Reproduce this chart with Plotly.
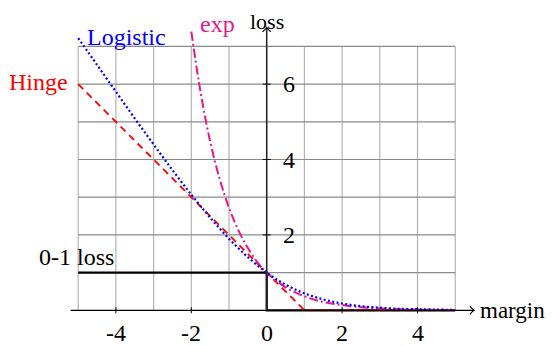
import plotly.graph_objects as go

# ---- data ----
hinge_x = [-5, 1, 5]
hinge_y = [6, 0, 0]

logistic_x = [-5, -4.5, -4, -3.5, -3, -2.5, -2, -1.5, -1, -0.5, 0, 0.5, 1, 1.5, 2, 2.5, 3, 3.5, 4, 4.5, 5]
logistic_y = [7.22, 6.51, 5.80, 5.09, 4.40, 3.72, 3.07, 2.46, 1.90, 1.41, 1.00, 0.68, 0.45, 0.29, 0.18, 0.11, 0.07, 0.04, 0.03, 0.02, 0.01]

exp_x = [-2, -1.75, -1.5, -1.25, -1, -0.75, -0.5, -0.25, 0, 0.5, 1, 1.5, 2, 2.5, 3, 3.5, 4, 4.5, 5]
exp_y = [7.39, 5.76, 4.48, 3.49, 2.72, 2.12, 1.65, 1.28, 1.00, 0.61, 0.37, 0.22, 0.14, 0.08, 0.05, 0.03, 0.02, 0.01, 0.01]

zero_one_x = [-5, 0, 0, 5]
zero_one_y = [1, 1, 0, 0]

grid_x = [-5, -4, -3, -2, -1, 0, 1, 2, 3, 4, 5]
grid_y = [1, 2, 3, 4, 5, 6, 7]
xtick_vals = [-4, -2, 0, 2, 4]
xtick_labels = ["-4", "-2", "0", "2", "4"]
ytick_vals = [2, 4, 6]
ytick_labels = ["2", "4", "6"]

FONT = "'Liberation Serif', 'Times New Roman', serif"
FS = 24
MAGENTA = "#e8168c"

fig = go.Figure()

shapes = []
# grid
for gx in grid_x:
    shapes.append(dict(type="line", xref="x", yref="y", x0=gx, x1=gx, y0=0, y1=7,
                       line=dict(color="#b3b3b3", width=1.2), layer="below"))
for gy in grid_y:
    shapes.append(dict(type="line", xref="x", yref="y", x0=-5, x1=5, y0=gy, y1=gy,
                       line=dict(color="#8a8a8a", width=1.2), layer="below"))
# axes
shapes.append(dict(type="line", xref="x", yref="y", x0=-5.2, x1=5.5, y0=0, y1=0,
                   line=dict(color="black", width=1.2)))
shapes.append(dict(type="line", xref="x", yref="y", x0=0, x1=0, y0=0, y1=7.5,
                   line=dict(color="#222", width=1.5)))
# arrow heads (open V)
shapes.append(dict(type="path", xref="x", yref="y",
                   path="M 5.39,0.11 Q 5.45,0.03 5.5,0 Q 5.45,-0.03 5.39,-0.11",
                   line=dict(color="black", width=1.1)))
shapes.append(dict(type="path", xref="x", yref="y",
                   path="M -0.11,7.39 Q -0.03,7.45 0,7.5 Q 0.03,7.45 0.11,7.39",
                   line=dict(color="black", width=1.1)))
# tick marks
for tv in xtick_vals:
    if tv != 0:
        shapes.append(dict(type="line", xref="x", yref="y", ysizemode="pixel", yanchor=0,
                           x0=tv, x1=tv, y0=-3, y1=3, line=dict(color="black", width=1)))
for tv in ytick_vals:
    shapes.append(dict(type="line", xref="x", yref="y", xsizemode="pixel", xanchor=0,
                       x0=-4, x1=4, y0=tv, y1=tv, line=dict(color="black", width=1)))

fig.add_trace(go.Scatter(x=zero_one_x, y=zero_one_y, mode="lines",
                         line=dict(color="black", width=2.2), hoverinfo="skip"))
fig.add_trace(go.Scatter(x=hinge_x, y=hinge_y, mode="lines",
                         line=dict(color="red", width=1.8, dash="7px,5px"), hoverinfo="skip"))
fig.add_trace(go.Scatter(x=exp_x, y=exp_y, mode="lines", line_shape="spline",
                         line=dict(color=MAGENTA, width=2, dash="9px,3px,2px,3px"), hoverinfo="skip"))
fig.add_trace(go.Scatter(x=logistic_x, y=logistic_y, mode="lines", line_shape="spline",
                         line=dict(color="blue", width=2.2, dash="2px,2.4px"), hoverinfo="skip"))

ann = []
for tv, tl in zip(xtick_vals, xtick_labels):
    ann.append(dict(x=tv, y=-0.2, text=tl, xanchor="center", yanchor="top", showarrow=False,
                    font=dict(family=FONT, size=FS, color="black")))
for tv, tl in zip(ytick_vals, ytick_labels):
    ann.append(dict(x=0.38, y=tv, text=tl, xanchor="left", yanchor="middle", showarrow=False,
                    font=dict(family=FONT, size=FS, color="black")))
ann.append(dict(x=5.6, y=0, text="margin", xanchor="left", yanchor="middle", showarrow=False,
                font=dict(family=FONT, size=23, color="black")))
ann.append(dict(x=0, y=1.0, text="loss", xref="x", yref="paper", xanchor="center", yanchor="top",
                showarrow=False, borderpad=0,
                font=dict(family=FONT, size=22, color="black")))
ann.append(dict(x=-5.22, y=6.05, text="Hinge", xanchor="right", yanchor="middle", showarrow=False,
                font=dict(family=FONT, size=FS, color="red")))
ann.append(dict(x=-4.82, y=7.25, text="Logistic", xanchor="left", yanchor="middle", showarrow=False,
                font=dict(family=FONT, size=FS, color="blue")))
ann.append(dict(x=-1.82, y=7.6, text="exp", xanchor="left", yanchor="middle", showarrow=False,
                font=dict(family=FONT, size=FS, color=MAGENTA)))
ann.append(dict(x=-6.08, y=1.42, text="0-1 loss", xanchor="left", yanchor="middle", showarrow=False,
                font=dict(family=FONT, size=FS, color="black")))

# page has an 8px body margin; the figure fills the rest of the 555x346 window
fig.update_layout(
    width=547, height=338,
    margin=dict(l=0, r=0, t=0, b=0),
    paper_bgcolor="white", plot_bgcolor="white",
    showlegend=False,
    xaxis=dict(range=[-6.862, 7.647], visible=False, fixedrange=True),
    yaxis=dict(range=[-0.947, 8.019], visible=False, fixedrange=True),
    shapes=shapes, annotations=ann,
)
fig.write_html("out.html")
